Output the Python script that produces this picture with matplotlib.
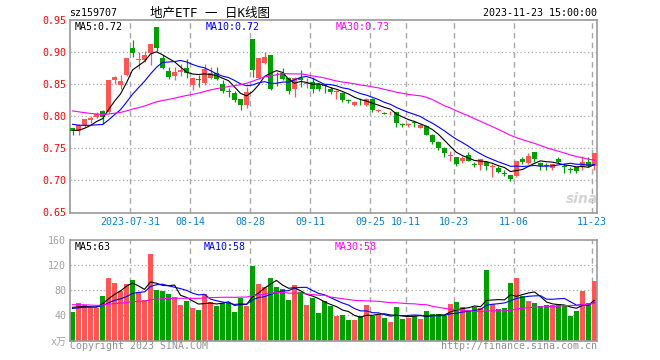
import numpy as np
import pandas as pd
import matplotlib
matplotlib.use('Agg')
import matplotlib.pyplot as plt

plt.rcParams['font.family'] = ['DejaVu Sans Mono', 'Noto Sans CJK SC']

# 29 sessions before 2023-07-17, only used to seed the moving averages
prior_close = [0.830, 0.832, 0.835, 0.828, 0.825, 0.830, 0.826, 0.820, 0.815, 0.818,
               0.822, 0.816, 0.812, 0.810, 0.815, 0.812, 0.808, 0.806, 0.810, 0.805,
               0.800, 0.798, 0.797, 0.795, 0.795, 0.785, 0.780, 0.776, 0.772]
prior_volume = [62, 58, 65, 70, 55, 60, 58, 63, 57, 52, 66, 61, 59, 55, 64, 58, 60, 62, 57, 58,
                50, 47, 52, 48, 49, 56, 53, 55, 54]

# daily bars 2023-07-17 .. 2023-11-23
opens = [0.781, 0.777, 0.786, 0.794, 0.7995, 0.808, 0.807, 0.857, 0.8485, 0.864,
         0.907, 0.888, 0.888, 0.898, 0.939, 0.891, 0.870, 0.8625, 0.869, 0.8755,
         0.8485, 0.858, 0.852, 0.860, 0.867, 0.851, 0.839, 0.8355, 0.8265, 0.817,
         0.920, 0.859, 0.883, 0.895, 0.860, 0.867, 0.860, 0.842, 0.860, 0.850,
         0.8535, 0.850, 0.848, 0.843, 0.838, 0.837, 0.824, 0.818, 0.8205, 0.818,
         0.8275, 0.808, 0.8045, 0.806, 0.806, 0.7875, 0.7865, 0.7905, 0.782, 0.7845,
         0.7715, 0.760, 0.7505, 0.7385, 0.7365, 0.730, 0.739, 0.7248, 0.7235, 0.729,
         0.7205, 0.720, 0.711, 0.709, 0.7065, 0.733, 0.727, 0.744, 0.7275, 0.7235,
         0.7195, 0.734, 0.7215, 0.7175, 0.721, 0.721, 0.729, 0.723]
highs = [0.782, 0.788, 0.796, 0.800, 0.806, 0.810, 0.857, 0.863, 0.864, 0.891,
         0.919, 0.900, 0.902, 0.913, 0.939, 0.896, 0.877, 0.877, 0.882, 0.890,
         0.861, 0.864, 0.882, 0.877, 0.877, 0.856, 0.844, 0.840, 0.8275, 0.845,
         0.920, 0.891, 0.900, 0.895, 0.869, 0.8755, 0.861, 0.861, 0.872, 0.859,
         0.861, 0.852, 0.851, 0.845, 0.841, 0.838, 0.827, 0.823, 0.828, 0.8285,
         0.829, 0.812, 0.807, 0.8085, 0.806, 0.790, 0.790, 0.793, 0.788, 0.7855,
         0.772, 0.761, 0.752, 0.746, 0.737, 0.7385, 0.744, 0.728, 0.734, 0.729,
         0.726, 0.7225, 0.7156, 0.709, 0.731, 0.737, 0.742, 0.745, 0.728, 0.727,
         0.726, 0.736, 0.7265, 0.7215, 0.721, 0.738, 0.736, 0.7435]
lows = [0.771, 0.771, 0.784, 0.790, 0.797, 0.788, 0.805, 0.850, 0.842, 0.862,
        0.892, 0.874, 0.885, 0.880, 0.901, 0.873, 0.858, 0.856, 0.8625, 0.859,
        0.8405, 0.846, 0.848, 0.858, 0.856, 0.8355, 0.830, 0.822, 0.8105, 0.8125,
        0.861, 0.858, 0.882, 0.841, 0.847, 0.856, 0.8345, 0.830, 0.846, 0.844,
        0.836, 0.839, 0.837, 0.835, 0.827, 0.822, 0.820, 0.816, 0.818, 0.8165,
        0.807, 0.806, 0.803, 0.802, 0.784, 0.784, 0.7825, 0.7835, 0.781, 0.770,
        0.756, 0.7475, 0.737, 0.731, 0.722, 0.727, 0.730, 0.721, 0.7155, 0.716,
        0.705, 0.7115, 0.7067, 0.699, 0.706, 0.725, 0.726, 0.729, 0.716, 0.7165,
        0.7155, 0.727, 0.712, 0.7115, 0.7115, 0.717, 0.7205, 0.716]
closes = [0.777, 0.786, 0.795, 0.798, 0.803, 0.799, 0.856, 0.861, 0.855, 0.890,
          0.899, 0.889, 0.895, 0.9125, 0.907, 0.875, 0.861, 0.869, 0.872, 0.867,
          0.860, 0.857, 0.874, 0.868, 0.858, 0.8395, 0.838, 0.825, 0.818, 0.838,
          0.872, 0.890, 0.8925, 0.842, 0.859, 0.858, 0.839, 0.859, 0.856, 0.852,
          0.843, 0.843, 0.847, 0.838, 0.839, 0.826, 0.8235, 0.8215, 0.820, 0.8275,
          0.809, 0.8085, 0.804, 0.8065, 0.789, 0.787, 0.787, 0.790, 0.787, 0.7715,
          0.760, 0.7505, 0.743, 0.739, 0.726, 0.735, 0.731, 0.7245, 0.734, 0.722,
          0.721, 0.713, 0.7105, 0.7025, 0.730, 0.729, 0.7375, 0.734, 0.722, 0.723,
          0.726, 0.728, 0.721, 0.717, 0.714, 0.728, 0.7225, 0.743]
volumes = [46, 60, 56.5, 52, 52, 71, 100, 92, 79.5, 90,
           96, 77, 64.5, 138, 80, 79.5, 74, 70, 56.5, 63,
           52, 48.5, 74, 61, 55, 59, 59, 45.5, 68, 55,
           119, 90, 85, 100, 84.5, 82, 64.5, 88.5, 76.5, 56.5,
           68, 44.5, 63, 55, 39.5, 40.5, 32.5, 32.5, 39.5, 56.5,
           39.5, 41.5, 35.5, 30, 54, 34, 36.5, 39.5, 34, 47,
           41.5, 41.5, 39.5, 58, 62, 54, 47, 54, 52, 112,
           57.5, 50, 52, 92, 100, 71.5, 63, 60, 55.5, 56.5,
           56.5, 57.5, 56.5, 39.5, 47, 79.5, 60, 94.5]

tick_idx = [10, 20, 30, 40, 50, 56, 64, 74, 87]
tick_labels = ['2023-07-31', '08-14', '08-28', '09-11', '09-25', '10-11', '10-23', '11-06', '11-23']
price_ticks = [0.65, 0.70, 0.75, 0.80, 0.85, 0.90, 0.95]
vol_ticks = [0, 40, 80, 120, 160]
vol_tick_labels = ['x万', '40', '80', '120', '160']
price_ma_labels = ['MA5:0.72', 'MA10:0.72', 'MA30:0.73']
vol_ma_labels = ['MA5:63', 'MA10:58', 'MA30:58']

UP = '#ff5555'
DOWN = '#00a000'
GRID = '#a8a8a8'
FRAME = '#999999'
MA_COLORS = ['black', '#0000ff', '#ff00ff']
FS = 7.2

n = len(closes)
x = np.arange(n)
o = np.array(opens)
c = np.array(closes)
up = c >= o
colors = np.where(up, UP, DOWN)

all_close = pd.Series(prior_close + closes)
all_vol = pd.Series(prior_volume + volumes)
price_ma = [all_close.rolling(w).mean().values[-n:] for w in (5, 10, 30)]
vol_ma = [all_vol.rolling(w).mean().values[-n:] for w in (5, 10, 30)]


def px_axes(fig, x0, y0, x1, y1):
    return fig.add_axes([x0 / 660, 1 - y1 / 360, (x1 - x0) / 660, (y1 - y0) / 360])


fig = plt.figure(figsize=(6.6, 3.6), dpi=100)
ax = px_axes(fig, 70.3, 20, 597, 212.5)
axv = px_axes(fig, 70.3, 240, 597, 340.5)

grid_x = np.array(tick_idx) - 0.37
for a in (ax, axv):
    a.set_xlim(-0.37, 87.42)
    for s in a.spines.values():
        s.set_color(FRAME)
        s.set_linewidth(1.2)
    for gx in grid_x:
        a.axvline(gx, color=GRID, lw=1.0, ls=(0, (4, 3)), zorder=0)

# price panel
ax.set_ylim(0.65, 0.95)
for p in price_ticks[1:-1]:
    ax.axhline(p, color=GRID, lw=0.9, ls=(0, (1, 2)), zorder=0)
ax.vlines(x, lows, highs, colors=colors, lw=0.9, zorder=2)
ax.bar(x, np.maximum(np.abs(c - o), 0.0013), bottom=np.minimum(o, c), width=0.82,
       color=colors, linewidth=0, zorder=3)
for ma, col in zip(price_ma, MA_COLORS):
    ax.plot(x, ma, color=col, lw=0.8, zorder=4)
ax.set_yticks(price_ticks)
ax.set_yticklabels(['%.2f' % p for p in price_ticks], color='red', fontsize=FS)
ax.set_xticks(grid_x)
ax.set_xticklabels(tick_labels, color='#0a7fd0', fontsize=FS)
ax.tick_params(length=0, pad=3)
for lab, xf, col in zip(price_ma_labels, (0.009, 0.257, 0.5035), MA_COLORS):
    ax.text(xf, 0.965, lab, transform=ax.transAxes, color=col, fontsize=FS, va='center', ha='left')
ax.text(0.972, 0.07, 'sina', transform=ax.transAxes, color='#d4d4d4', fontsize=10,
        style='italic', weight='bold', family='DejaVu Sans', ha='center', va='center')

# volume panel
axv.set_ylim(0, 160)
for v in vol_ticks[1:-1]:
    axv.axhline(v, color=GRID, lw=0.9, ls=(0, (1, 2)), zorder=0)
axv.bar(x, volumes, width=0.82, color=colors, linewidth=0, zorder=2)
for ma, col in zip(vol_ma, MA_COLORS):
    axv.plot(x, ma, color=col, lw=0.8, zorder=4)
axv.set_yticks(vol_ticks)
axv.set_yticklabels(vol_tick_labels, color='#a0a0a0', fontsize=FS)
axv.set_xticks([])
axv.tick_params(length=0, pad=3)
for lab, xf, col in zip(vol_ma_labels, (0.009, 0.254, 0.502), MA_COLORS):
    axv.text(xf, 0.933, lab, transform=axv.transAxes, color=col, fontsize=FS, va='center', ha='left')

# header and footer
fig.text(69 / 660, 1 - 13 / 360, 'sz159707', fontsize=FS, va='center', ha='left')
fig.text(210 / 660, 1 - 13 / 360, '地产ETF 一 日K线图', fontsize=9, va='center', ha='center')
fig.text(597 / 660, 1 - 13 / 360, '2023-11-23 15:00:00', fontsize=FS, va='center', ha='right')
fig.text(70 / 660, 1 - 346 / 360, 'Copyright 2023 SINA.COM', fontsize=FS, color='#909090', va='center', ha='left')
fig.text(597 / 660, 1 - 346 / 360, 'http://finance.sina.com.cn', fontsize=FS, color='#909090', va='center', ha='right')

fig.savefig('out.png', dpi=100)
